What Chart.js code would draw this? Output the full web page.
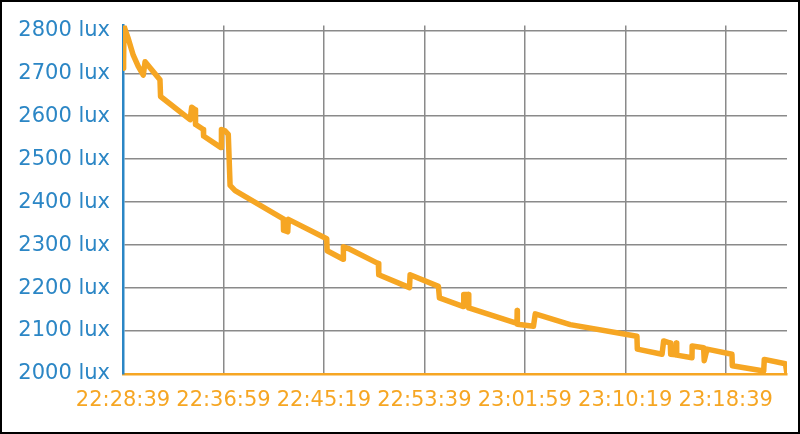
<!DOCTYPE html>
<html lang="en">
<head>
    <meta charset="UTF-8">
    <title>Illuminance</title>
    <script src="https://cdn.jsdelivr.net/npm/chart.js"></script>
    <style>
        html, body { margin: 0; padding: 0; background: #fff; }
        .wrap { position: relative; width: 800px; height: 434px; }
        .frame { position: absolute; left: 0; top: 0; width: 800px; height: 434px; box-sizing: border-box; border: 2px solid #000; pointer-events: none; }
        canvas { display: block; }
    </style>
</head>
<body>
    <div class="wrap">
        <canvas id="luxChart" width="800" height="434"></canvas>
        <div class="frame"></div>
    </div>

    <script>
        // seconds elapsed since 22:28:39 and the light level read at that moment
        const elapsed = [0, 3, 5, 14, 26, 51, 76, 101, 110, 184, 187,
            334, 342, 359, 361, 400, 401, 488, 490, 508, 524,
            533, 558, 798, 799, 820, 823, 1014, 1016, 1096, 1097,
            1122, 1271, 1273, 1426, 1429, 1570, 1575, 1695, 1696, 1720,
            1721, 1961, 1962, 1963, 2043, 2052, 2226, 2508, 2558, 2560,
            2683, 2691, 2724, 2726, 2751, 2754, 2756, 2832, 2833, 2890,
            2893, 2907, 3031, 3033, 3189, 3192, 3297, 3305];
        const lux = [2712, 2728, 2810, 2797, 2781, 2742, 2716, 2696, 2727, 2685, 2646,
            2592, 2621, 2615, 2581, 2569, 2554, 2527, 2569, 2566, 2558,
            2439, 2427, 2361, 2335, 2331, 2360, 2315, 2287, 2267, 2296,
            2292, 2257, 2231, 2201, 2231, 2204, 2177, 2157, 2185, 2185,
            2154, 2118, 2148, 2116, 2111, 2140, 2115, 2092, 2088, 2058,
            2046, 2077, 2072, 2046, 2045, 2072, 2044, 2038, 2065, 2061,
            2031, 2058, 2046, 2019, 2007, 2034, 2024, 2000];
        const timeLabels = ['22:28:39', '22:36:59', '22:45:19', '22:53:39', '23:01:59', '23:10:19', '23:18:39'];
        const timeStep = 500;
        const luxTicks = [2000, 2100, 2200, 2300, 2400, 2500, 2600, 2700, 2800];
        const luxMin = 2000;
        const luxMax = 2811;

        const orange = '#f6a623';
        const blue = '#2b86c5';
        const gridGray = '#8a8a8a';
        const tickFont = { family: '"DejaVu Sans", sans-serif', size: 21 };

        const points = elapsed.map((t, i) => ({ x: t, y: lux[i] }));

        new Chart(document.getElementById('luxChart'), {
            type: 'line',
            data: {
                datasets: [{
                    data: points,
                    borderColor: orange,
                    backgroundColor: orange,
                    borderWidth: 5.5,
                    borderJoinStyle: 'round',
                    borderCapStyle: 'round',
                    pointRadius: 0,
                    tension: 0
                }]
            },
            options: {
                responsive: false,
                animation: false,
                devicePixelRatio: 1,
                layout: { padding: { top: 22, right: 13, left: 0, bottom: 0 } },
                plugins: {
                    legend: { display: false },
                    tooltip: { enabled: false }
                },
                scales: {
                    x: {
                        type: 'linear',
                        min: 0,
                        max: elapsed[elapsed.length - 1],
                        afterFit: (scale) => { scale.height = 60; },
                        // chart.js stretches the step to fit the range, so set the ticks by hand
                        afterBuildTicks: (scale) => {
                            scale.ticks = timeLabels.map((_, i) => ({ value: i * timeStep }));
                        },
                        grid: { color: gridGray, lineWidth: 1.5, drawTicks: false },
                        border: { color: orange, width: 2.5 },
                        ticks: {
                            autoSkip: false,
                            maxRotation: 0,
                            padding: 14,
                            color: orange,
                            font: tickFont,
                            callback: (v) => timeLabels[Math.round(v / timeStep)]
                        }
                    },
                    y: {
                        min: luxMin,
                        max: luxMax,
                        afterFit: (scale) => { scale.width = 123; },
                        afterBuildTicks: (scale) => {
                            scale.ticks = luxTicks.map((v) => ({ value: v }));
                        },
                        grid: { color: gridGray, lineWidth: 1.5, drawTicks: false },
                        border: { color: blue, width: 2.5 },
                        ticks: {
                            padding: 13,
                            color: blue,
                            font: tickFont,
                            callback: (v) => v + ' lux'
                        }
                    }
                }
            }
        });
    </script>
</body>
</html>
